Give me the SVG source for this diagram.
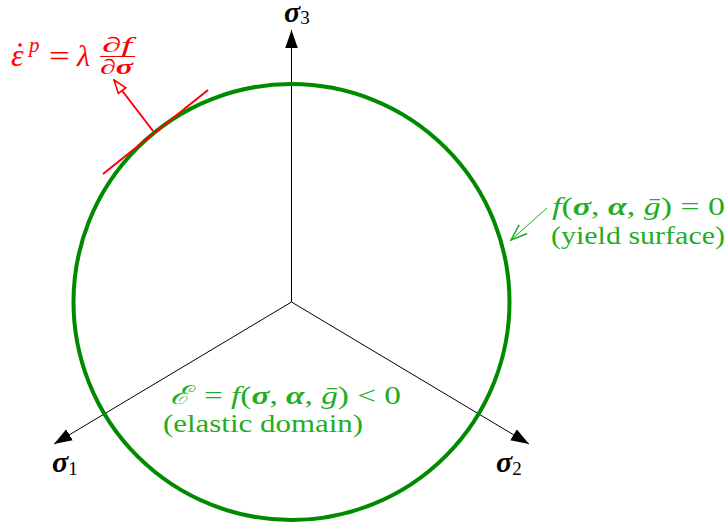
<svg xmlns="http://www.w3.org/2000/svg" width="728" height="529" viewBox="0 0 728 529">
<style>
.it{font-style:italic}
.bi{font-style:italic;font-weight:bold}
.ax{stroke:#000;stroke-width:1;fill:none}
text{font-family:"Liberation Serif","DejaVu Serif",serif}
</style>
<defs>
<marker id="ah" viewBox="0 0 10 10" refX="10" refY="5" markerWidth="18" markerHeight="18" markerUnits="userSpaceOnUse" orient="auto">
<path d="M0,1.5 L10,5 L0,8.5 Z" fill="#000"/>
</marker>
<marker id="rh" viewBox="0 0 12 10" refX="11" refY="5" markerWidth="16" markerHeight="14" markerUnits="userSpaceOnUse" orient="auto">
<path d="M1,1.5 L11,5 L1,8.5 Z" fill="#fff" stroke="#ff0000" stroke-width="1.2"/>
</marker>
<marker id="gh" viewBox="0 0 12 10" refX="11" refY="5" markerWidth="18" markerHeight="15" markerUnits="userSpaceOnUse" orient="auto">
<path d="M0,1 L11,5 L0,9" fill="none" stroke="#1fae1f" stroke-width="1"/>
</marker>
</defs>
<g id="connectors">
<line class="ax" x1="291.5" y1="302" x2="291.5" y2="30" marker-end="url(#ah)"/>
<line class="ax" x1="291.5" y1="302" x2="54" y2="444" marker-end="url(#ah)"/>
<line class="ax" x1="291.5" y1="302" x2="529" y2="444" marker-end="url(#ah)"/>
<line x1="547" y1="208" x2="511" y2="240" stroke="#1fae1f" stroke-width="1" marker-end="url(#gh)"/>
<line x1="153" y1="131" x2="114" y2="80" stroke="#ff0000" stroke-width="2" marker-end="url(#rh)"/>
</g>
<g id="yield-surface">
<circle cx="291.5" cy="302" r="218" fill="none" stroke="#008a00" stroke-width="4"/>
</g>
<g id="tangent">
<line x1="103" y1="174" x2="208" y2="90" stroke="#ff0000" stroke-width="2"/>
</g>
<g id="axis-labels" fill="#000">
<text x="284" y="22" font-size="30"><tspan class="bi">σ</tspan><tspan font-size="19" dy="2">3</tspan></text>
<text x="52" y="472" font-size="30"><tspan class="bi">σ</tspan><tspan font-size="19" dy="3">1</tspan></text>
<text x="496" y="472" font-size="30"><tspan class="bi">σ</tspan><tspan font-size="19" dy="3">2</tspan></text>
</g>
<g id="flow-rule" fill="#ff0000">
<text x="11" y="66" font-size="32" class="it">ε</text>
<circle cx="20" cy="45" r="1.8" fill="#ff0000"/>
<text x="29" y="52" font-size="21" class="it">p</text>
<text x="49" y="66" font-size="30" textLength="21" lengthAdjust="spacingAndGlyphs">=</text>
<text x="77" y="66" font-size="30" class="it">λ</text>
<text x="102" y="52" font-size="21" class="it" textLength="30" lengthAdjust="spacingAndGlyphs">∂f</text>
<line x1="100" y1="56.5" x2="135" y2="56.5" stroke="#ff0000" stroke-width="1.2"/>
<text x="100" y="74" font-size="21" textLength="33" lengthAdjust="spacingAndGlyphs"><tspan class="it">∂</tspan><tspan class="bi">σ</tspan></text>
</g>
<g id="yield-label" fill="#1fae1f" font-size="26">
<text x="552" y="215" textLength="173" lengthAdjust="spacingAndGlyphs"><tspan class="it">f</tspan>(<tspan class="bi">σ</tspan>, <tspan class="bi">α</tspan>, <tspan class="it">ḡ</tspan>) = 0</text>
<text x="551" y="244" textLength="174" lengthAdjust="spacingAndGlyphs">(yield surface)</text>
</g>
<g id="elastic-label" fill="#1fae1f" font-size="26">
<text x="170" y="404" textLength="231" lengthAdjust="spacingAndGlyphs"><tspan class="it">ℰ</tspan><tspan dx="4"> = </tspan><tspan class="it">f</tspan>(<tspan class="bi">σ</tspan>, <tspan class="bi">α</tspan>, <tspan class="it">ḡ</tspan>) &lt; 0</text>
<text x="163" y="432" textLength="200" lengthAdjust="spacingAndGlyphs">(elastic domain)</text>
</g>
</svg>
